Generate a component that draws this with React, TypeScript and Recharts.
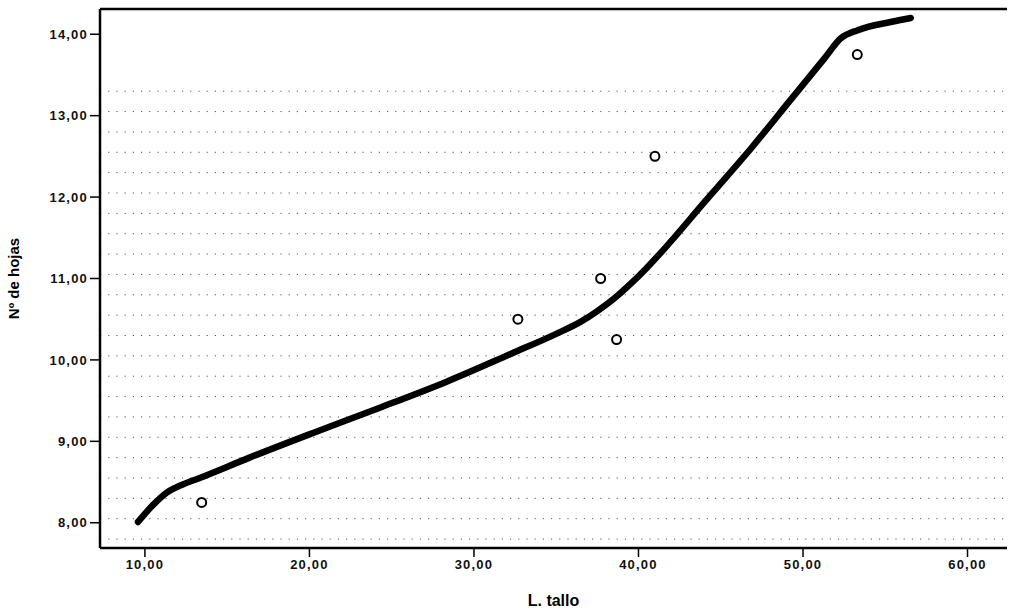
import {
  ComposedChart, Line, Scatter, XAxis, YAxis, ReferenceLine, Label,
} from 'recharts'

// observed cases (L. tallo, Nº de hojas)
const obsX = [13.45, 32.67, 37.7, 38.67, 41.0, 53.3]
const obsY = [8.25, 10.5, 11.0, 10.25, 12.5, 13.75]

// fitted curve
const fitX = [9.58, 10.5, 11.33, 12.3, 13.33, 16.36, 20.18, 24.24, 28.3, 32.3, 35.0, 36.5, 37.5, 38.5, 39.5, 40.5, 41.64, 44.06, 46.85, 49.27, 51.33, 52.3, 53.33, 55.33, 56.55]
const fitY = [8.01, 8.22, 8.37, 8.47, 8.55, 8.8, 9.1, 9.41, 9.73, 10.08, 10.32, 10.47, 10.6, 10.75, 10.93, 11.13, 11.38, 11.95, 12.6, 13.2, 13.71, 13.95, 14.05, 14.15, 14.2]

const xTicks = [10, 20, 30, 40, 50, 60]
const yTicks = [8, 9, 10, 11, 12, 13, 14]

const X_DOMAIN: [number, number] = [7.27, 62.4]
const Y_DOMAIN: [number, number] = [7.69, 14.31]

const points = obsX.map((x, i) => ({ x, y: obsY[i] }))
const curve = fitX.map((x, i) => ({ x, y: fitY[i] }))

// faint dotted rows of the scanned background
const textureRows: number[] = []
for (let v = 7.8; v <= 13.51; v += 0.25) textureRows.push(Number(v.toFixed(2)))

const fmt = (v: number) => v.toFixed(2).replace('.', ',')

const FONT = 'Liberation Sans, Arial, sans-serif'
const TICK = { fill: '#111', fontSize: 13, fontWeight: 700, fontFamily: FONT, letterSpacing: 1.2 }

function Ring(props: any) {
  const { cx, cy } = props
  if (cx == null || cy == null) return null
  return <circle cx={cx} cy={cy} r={4.5} fill="none" stroke="#000" strokeWidth={2} />
}

export default function App() {
  return (
    <div style={{ position: 'absolute', left: 0, top: 0, width: 1010, height: 610, background: '#fff' }}>
      <ComposedChart width={1010} height={610} margin={{ top: 9, right: 3, bottom: 0, left: 0 }}>
        {textureRows.map((v) => (
          <ReferenceLine key={v} y={v} stroke="#555" strokeWidth={1} strokeDasharray="1.2 7" />
        ))}
        {/* top frame line */}
        <ReferenceLine y={Y_DOMAIN[1]} stroke="#000" strokeWidth={2.5} />
        <XAxis
          type="number"
          dataKey="x"
          domain={X_DOMAIN}
          ticks={xTicks}
          tickFormatter={fmt}
          tick={TICK}
          tickSize={9}
          tickMargin={3}
          height={62}
          axisLine={{ stroke: '#000', strokeWidth: 2.5 }}
          tickLine={{ stroke: '#000', strokeWidth: 1.5 }}
          allowDataOverflow
        >
          <Label value="L. tallo" position="insideBottom" offset={4} style={{ fill: '#000', fontSize: 16, fontWeight: 700, fontFamily: FONT }} />
        </XAxis>
        <YAxis
          type="number"
          dataKey="y"
          domain={Y_DOMAIN}
          ticks={yTicks}
          tickFormatter={fmt}
          tick={TICK}
          tickSize={10}
          tickMargin={2}
          width={100}
          axisLine={{ stroke: '#000', strokeWidth: 2.5 }}
          tickLine={{ stroke: '#000', strokeWidth: 1.5 }}
          allowDataOverflow
        >
          <Label value="Nº de hojas" angle={-90} position="insideLeft" offset={14} style={{ fill: '#000', fontSize: 15, fontWeight: 700, fontFamily: FONT, textAnchor: 'middle' }} />
        </YAxis>
        <Line data={curve} dataKey="y" type="monotone" stroke="#000" strokeWidth={6.5} strokeLinecap="round" dot={false} activeDot={false} isAnimationActive={false} />
        <Scatter data={points} dataKey="y" shape={<Ring />} isAnimationActive={false} />
      </ComposedChart>
    </div>
  )
}
